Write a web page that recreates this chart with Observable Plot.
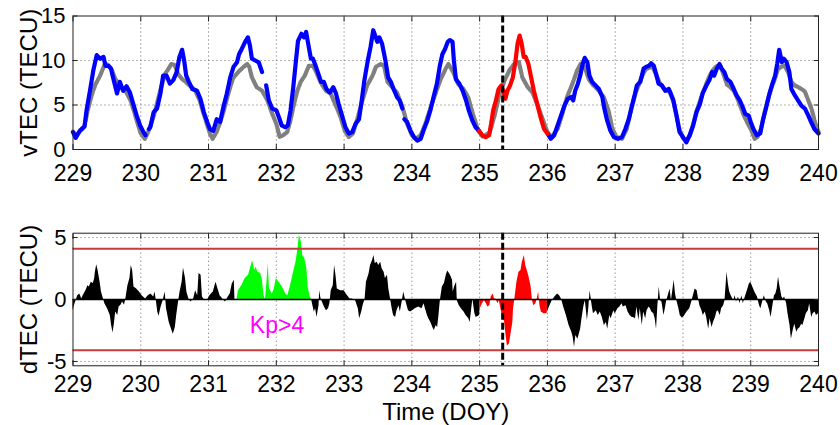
<!DOCTYPE html>
<html>
<head>
<meta charset="utf-8">
<script src="https://cdn.jsdelivr.net/npm/d3@7"></script>
<script src="https://cdn.jsdelivr.net/npm/@observablehq/plot@0.6"></script>
<style>
  html, body { margin: 0; padding: 0; background: #fff; }
  #chart { width: 840px; height: 425px; overflow: hidden; }
  #chart svg { display: block; }
</style>
</head>
<body>
<div id="chart"></div>
<script>
// Axis ticks
const doyTicks = [229, 230, 231, 232, 233, 234, 235, 236, 237, 238, 239, 240];
const vtecTicks = [0, 5, 10, 15];
const dtecTicks = [-5, 0, 5];

// Reference times (day of year)
const eventDoy = 235.34;          // dashed marker
const kpWindow = [231.42, 232.52]; // Kp > 4 interval
const eventWindow = [235.0, 236.0]; // event day
const dtecThreshold = 4.1;         // ± anomaly bounds (TECU)

// Observed vTEC [DOY, TECU]; null marks a data gap
const vtecBefore = [
  [229.00,1.95],[229.04,1.3],[229.10,2.1],[229.17,2.6],[229.20,4.4],[229.25,6.6],[229.30,8.9],[229.35,10.6],
  [229.40,10.2],[229.45,10.4],[229.48,9.4],[229.52,9.4],[229.56,9.1],[229.60,7.8],[229.65,6.3],[229.69,7.6],
  [229.74,6.6],[229.79,7.1],[229.84,6.4],[229.89,5.1],[229.94,3.8],[229.99,2.7],[230.04,1.95],[230.07,1.6],
  [230.09,null],[230.12,2.3],[230.14,2.5],[230.19,4.2],[230.24,4.6],[230.29,6.3],[230.33,8.3],[230.38,8.3],
  [230.43,7.4],[230.48,7.8],[230.53,8.7],[230.57,10.4],[230.61,11.2],[230.64,10.0],[230.67,8.3],[230.71,7.6],
  [230.76,6.8],[230.83,6.6],[230.88,5.7],[230.93,4.2],[230.98,3.1],[231.02,2.3],[231.07,2.1],[231.12,3.4],
  [231.17,3.1],[231.22,4.8],[231.27,6.3],[231.32,8.1],[231.37,9.3],[231.42,9.8],[231.45,10.7],[231.49,11.3],
  [231.54,12.1],[231.58,12.6],[231.61,11.7],[231.64,10.2],[231.69,10.0],[231.74,9.8],[231.79,8.7],
  [231.82,null],[231.85,7.2],[231.89,5.5],[231.94,4.6],[232.00,4.4],[232.04,3.6],[232.08,2.7],[232.13,2.5],
  [232.17,2.7],[232.21,4.4],[232.25,7.0],[232.29,10.0],[232.32,12.2],[232.37,13.0],[232.41,12.6],[232.44,13.2],
  [232.47,11.9],[232.51,10.2],[232.54,10.2],[232.58,9.4],[232.63,8.3],[232.66,7.6],[232.70,7.6],[232.74,6.8],
  [232.79,6.4],[232.84,7.0],[232.88,6.3],[232.92,5.1],[232.97,3.8],[233.02,2.5],[233.07,1.8],[233.12,1.95],
  [233.17,2.9],[233.22,3.4],[233.26,5.5],[233.30,7.8],[233.35,10.0],[233.39,11.5],[233.43,13.4],[233.45,13.0],
  [233.49,12.1],[233.52,12.6],[233.56,11.9],[233.61,10.0],[233.65,8.1],[233.69,7.6],[233.73,6.8],[233.78,5.9],
  [233.82,5.5],[233.86,4.6],[233.875,null],[233.89,3.4],[233.93,3.1],[233.98,2.1],[234.03,1.4],[234.08,1.0],
  [234.13,1.2],[234.18,2.3],[234.23,3.3],[234.28,4.6],[234.32,5.9],[234.37,7.4],[234.41,9.3],[234.45,10.7],
  [234.49,11.3],[234.53,12.1],[234.56,12.3],[234.60,12.1],[234.62,10.0],[234.65,7.9],[234.70,7.4],[234.75,6.6],
  [234.80,5.5],[234.84,4.4],[234.89,3.3],[234.94,2.5],[234.99,2.1]
];
const vtecEvent = [
  [234.99,2.1],[235.04,1.6],[235.09,1.4],[235.14,1.6],[235.17,2.9],[235.20,4.4],[235.24,5.5],[235.28,6.8],
  [235.32,7.2],[235.35,6.6],[235.38,5.7],[235.41,6.6],[235.45,7.2],[235.49,8.1],[235.53,10.0],[235.56,11.9],
  [235.59,12.8],[235.62,11.9],[235.65,10.4],[235.68,10.4],[235.72,9.6],[235.76,8.1],[235.80,6.6],[235.85,5.1],
  [235.90,3.6],[235.95,2.3],[236.00,1.8]
];
const vtecAfter = [
  [236.00,1.8],[236.05,1.2],[236.10,1.6],[236.15,2.7],[236.20,3.8],[236.25,4.9],[236.30,5.7],[236.35,5.9],
  [236.38,5.5],[236.41,6.6],[236.45,7.4],[236.49,8.5],[236.52,9.6],[236.55,10.3],[236.59,9.8],[236.62,8.3],
  [236.66,7.6],[236.71,7.2],[236.76,6.8],[236.81,5.9],[236.84,4.6],[236.88,3.3],[236.93,2.1],[236.98,1.4],
  [237.04,1.2],[237.10,1.4],[237.15,2.3],[237.20,3.4],[237.25,5.0],[237.29,6.2],[237.32,7.2],[237.37,7.6],
  [237.42,9.1],[237.46,9.3],[237.50,9.4],[237.53,9.7],[237.57,9.4],[237.61,8.3],[237.64,7.4],[237.69,7.2],
  [237.74,6.6],[237.79,6.8],[237.82,6.3],[237.86,5.5],[237.90,4.0],[237.95,1.95],[238.00,1.4],[238.05,0.8],
  [238.10,1.6],[238.15,2.7],[238.20,4.2],[238.25,5.1],[238.29,6.3],[238.34,7.1],[238.39,7.8],[238.43,8.7],
  [238.46,8.3],[238.50,9.1],[238.54,9.6],[238.57,9.1],[238.61,8.7],[238.65,7.9],[238.70,7.6],[238.75,6.8],
  [238.79,6.1],[238.84,5.5],[238.88,4.8],[238.92,4.0],[238.97,3.8],[239.00,3.1],[239.04,2.3],[239.09,1.6],
  [239.14,1.8],[239.18,3.3],[239.23,4.8],[239.27,6.1],[239.32,7.4],[239.36,8.3],[239.39,9.6],[239.42,11.2],
  [239.46,9.8],[239.49,10.2],[239.53,9.8],[239.57,8.7],[239.60,6.8],[239.65,6.1],[239.70,5.5],[239.75,4.9],
  [239.80,4.6],[239.85,3.8],[239.89,3.1],[239.94,2.3],[240.00,1.8]
];

// Background (quiet-day) vTEC [DOY, TECU]
const vtecBackground = [
  [229.00,2.0],[229.05,1.6],[229.10,2.0],[229.17,2.6],[229.22,4.5],[229.28,6.2],[229.33,7.3],[229.40,8.3],
  [229.47,9.6],[229.52,9.5],[229.57,9.0],[229.62,8.0],[229.70,7.0],[229.78,6.5],[229.85,5.5],[229.90,4.3],
  [229.95,3.0],[230.00,1.8],[230.06,1.2],[230.10,1.8],[230.15,2.8],[230.20,4.0],[230.25,5.5],[230.30,7.0],
  [230.36,8.5],[230.41,9.1],[230.45,9.6],[230.50,9.5],[230.55,8.5],[230.60,8.0],[230.66,7.6],[230.72,7.2],
  [230.80,6.7],[230.87,5.5],[230.92,4.2],[230.97,3.0],[231.02,1.8],[231.06,1.2],[231.12,2.0],[231.17,3.0],
  [231.23,4.5],[231.30,6.5],[231.36,8.0],[231.45,8.8],[231.52,9.3],[231.57,9.6],[231.60,9.3],[231.64,8.1],
  [231.71,7.0],[231.79,6.6],[231.87,5.5],[231.94,4.0],[232.00,2.9],[232.05,1.4],[232.10,1.6],[232.16,1.95],
  [232.21,3.3],[232.26,5.1],[232.31,6.6],[232.36,7.6],[232.42,8.3],[232.48,9.4],[232.54,9.4],[232.59,8.7],
  [232.65,7.6],[232.73,6.6],[232.80,6.3],[232.87,5.1],[232.95,3.6],[233.01,2.1],[233.07,1.4],[233.13,1.8],
  [233.19,3.3],[233.27,5.5],[233.34,7.2],[233.42,8.3],[233.47,9.3],[233.54,9.6],[233.59,9.4],[233.64,7.6],
  [233.71,7.0],[233.78,6.4],[233.86,4.8],[233.93,2.9],[234.00,1.6],[234.06,1.2],[234.13,1.6],[234.20,2.9],
  [234.28,4.8],[234.35,6.3],[234.42,7.8],[234.50,9.1],[234.54,9.6],[234.61,8.7],[234.68,7.4],[234.76,6.8],
  [234.83,5.9],[234.90,4.0],[234.98,2.1],[235.05,1.4],[235.15,1.95],[235.22,3.8],[235.29,6.1],[235.37,7.8],
  [235.44,8.9],[235.51,9.6],[235.58,9.8],[235.63,8.1],[235.71,7.0],[235.78,6.4],[235.85,5.1],[235.93,3.4],
  [236.00,1.95],[236.06,1.4],[236.15,2.3],[236.22,4.0],[236.29,5.9],[236.37,7.4],[236.44,8.9],[236.49,9.6],
  [236.55,9.3],[236.61,7.9],[236.68,7.2],[236.76,6.6],[236.83,5.9],[236.90,4.4],[236.96,2.3],[237.02,1.4],
  [237.10,1.2],[237.17,2.3],[237.24,4.6],[237.30,6.3],[237.35,7.3],[237.40,8.3],[237.45,9.0],[237.50,9.2],
  [237.55,9.3],[237.60,8.5],[237.65,7.6],[237.70,7.0],[237.75,6.6],[237.80,6.5],[237.85,5.6],[237.90,4.0],
  [237.95,2.2],[238.00,1.3],[238.05,1.0],[238.10,1.6],[238.15,2.8],[238.20,4.3],[238.25,5.4],[238.30,6.5],
  [238.35,7.5],[238.40,8.4],[238.45,9.0],[238.50,9.4],[238.55,9.4],[238.60,8.4],[238.65,7.3],[238.70,7.0],
  [238.75,6.6],[238.80,5.8],[238.85,4.8],[238.90,3.8],[238.95,3.0],[239.00,2.3],[239.06,1.2],[239.10,1.4],
  [239.15,2.3],[239.20,4.0],[239.25,5.5],[239.30,6.8],[239.35,7.8],[239.40,9.0],[239.45,9.3],[239.50,9.4],
  [239.55,8.7],[239.60,7.6],[239.65,7.2],[239.70,7.0],[239.75,6.8],[239.80,6.5],[239.85,5.5],[239.90,4.5],
  [239.95,3.0],[240.00,2.0]
];

// Differential TEC (observed minus background) [DOY, TECU]
const dtec = [
  [229.00,-0.9],[229.03,-0.35],[229.07,0.3],[229.10,0.45],[229.13,0.05],[229.15,0.3],[229.19,0.7],[229.22,1.1],
  [229.24,1.0],[229.27,1.4],[229.30,1.3],[229.32,1.7],[229.33,2.2],[229.35,2.8],[229.37,2.35],[229.40,1.4],
  [229.42,0.6],[229.45,0.05],[229.47,-0.35],[229.51,-0.75],[229.55,-1.3],[229.57,-2.1],[229.59,-2.7],[229.61,-2.0],
  [229.63,-1.0],[229.66,-1.3],[229.68,-0.6],[229.71,-0.45],[229.73,-0.2],[229.76,-0.45],[229.78,0.05],[229.81,1.1],
  [229.84,1.7],[229.86,2.75],[229.88,2.35],[229.90,1.0],[229.94,0.85],[229.98,0.6],[230.02,0.3],[230.07,0.05],
  [230.11,0.3],[230.15,0.45],[230.19,0.2],[230.21,0.6],[230.23,-0.1],[230.25,-1.0],[230.27,-1.35],[230.30,-0.6],
  [230.33,-0.1],[230.36,0.6],[230.38,-0.75],[230.42,-1.85],[230.46,-2.5],[230.48,-2.8],[230.51,-2.25],[230.53,-1.3],
  [230.56,-0.1],[230.58,0.6],[230.61,1.4],[230.63,2.55],[230.66,1.7],[230.68,0.6],[230.71,0.05],[230.74,-0.2],
  [230.78,0.05],[230.81,0.7],[230.84,0.3],[230.86,2.1],[230.89,1.95],[230.91,0.2],[230.95,-0.1],[230.99,0],
  [231.02,0.3],[231.07,0.6],[231.11,1.4],[231.14,0.85],[231.17,0.3],[231.21,0.05],[231.25,-0.2],[231.29,0.2],
  [231.32,0.45],[231.35,1.25],[231.38,1.55],[231.39,-0.1],[231.42,0],
  [231.44,0.7],[231.49,1.1],[231.54,1.7],[231.59,1.95],[231.63,2.75],[231.65,3.15],[231.68,2.35],[231.70,2.6],
  [231.73,2.2],[231.77,2.1],[231.79,1.7],[231.82,0.3],[231.84,0],[231.86,1.25],[231.88,2.9],[231.90,0.85],
  [231.94,0.45],[231.97,0.85],[232.00,1.7],[232.04,1.4],[232.09,1.0],[232.14,0.45],[232.17,0.3],[232.21,1.1],
  [232.25,2.1],[232.29,3.0],[232.32,4.1],[232.34,5.2],[232.37,4.65],[232.39,3.55],[232.42,3.3],[232.45,2.5],
  [232.47,1.0],[232.50,0.2],[232.52,0],
  [232.54,-0.5],[232.56,-1.0],[232.58,-0.75],[232.60,-1.45],[232.63,-0.5],[232.64,0.7],[232.66,0.05],[232.69,-0.35],
  [232.71,-0.6],[232.74,-0.9],[232.77,-0.75],[232.79,-0.35],[232.81,0.7],[232.84,1.1],[232.86,2.75],[232.88,1.95],
  [232.90,0.85],[232.95,0.7],[233.00,0.7],[233.05,0.3],[233.09,0.05],[233.12,0.05],[233.17,-0.1],[233.21,-0.75],
  [233.23,-1.55],[233.26,-1.0],[233.28,-0.5],[233.31,0.05],[233.33,1.4],[233.37,2.1],[233.39,2.75],[233.42,3.15],
  [233.44,3.55],[233.46,2.9],[233.49,3.0],[233.51,2.75],[233.54,3.0],[233.56,2.5],[233.59,2.2],[233.61,1.7],
  [233.64,1.95],[233.66,0.85],[233.69,-0.1],[233.71,-0.75],[233.73,-1.3],[233.76,-1.45],[233.78,-0.9],[233.81,-0.5],
  [233.83,-1.0],[233.86,-0.1],[233.88,0.6],[233.91,-0.1],[233.95,-0.9],[233.98,-1.0],[234.01,-0.9],[234.05,-0.75],
  [234.10,-0.6],[234.15,-0.75],[234.18,-0.35],[234.20,-0.75],[234.23,-1.3],[234.25,-1.55],[234.28,-1.85],[234.31,-2.25],
  [234.33,-2.5],[234.36,-2.1],[234.38,-2.25],[234.40,-1.3],[234.42,-0.1],[234.45,1.0],[234.48,1.3],[234.51,2.0],
  [234.53,2.3],[234.57,1.95],[234.60,1.55],[234.61,0.6],[234.63,1.0],[234.66,1.4],[234.67,-0.1],[234.70,-0.5],
  [234.73,-0.75],[234.77,-1.0],[234.80,-1.3],[234.84,-1.55],[234.86,-1.85],[234.88,-0.9],[234.90,0.05],[234.93,-1.15],
  [234.95,-1.45],[235.00,-1.3],
  [235.01,-0.75],[235.04,-0.35],[235.07,-0.1],[235.10,-0.35],[235.12,-0.6],[235.15,-0.5],[235.17,0.2],[235.20,0.45],
  [235.22,0.05],[235.24,0.05],[235.27,-0.35],[235.29,-0.1],[235.32,-0.9],[235.34,-1.3],[235.37,-1.85],[235.39,-2.9],
  [235.41,-3.75],[235.44,-3.6],[235.46,-2.9],[235.49,-1.85],[235.50,-0.75],[235.52,0.05],[235.55,1.4],[235.58,2.2],
  [235.61,2.35],[235.63,3.0],[235.66,3.55],[235.68,2.75],[235.71,2.2],[235.73,1.8],[235.76,1.0],[235.78,-0.1],
  [235.80,-0.5],[235.83,-0.35],[235.85,0.05],[235.87,0.6],[235.89,-0.5],[235.91,-1.0],[235.95,-1.15],[235.99,-1.15],
  [236.00,-1.0],
  [236.03,-0.6],[236.07,-0.1],[236.11,0.2],[236.15,0.45],[236.18,0.3],[236.21,0],[236.24,-0.6],[236.28,-1.3],
  [236.32,-2.1],[236.36,-2.65],[236.38,-3.05],[236.40,-3.85],[236.42,-2.9],[236.45,-3.2],[236.49,-2.4],[236.51,-1.55],
  [236.54,-0.5],[236.56,-0.1],[236.59,-1.7],[236.61,-0.75],[236.63,0.7],[236.66,-0.5],[236.68,-1.15],[236.72,-0.9],
  [236.75,-1.3],[236.78,-1.0],[236.81,-1.45],[236.84,-2.1],[236.87,-1.85],[236.89,-2.4],[236.92,-1.3],[236.94,-1.55],
  [236.98,-0.9],[237.00,-1.15],[237.04,-0.75],[237.07,-0.6],[237.10,-0.35],[237.12,-0.6],[237.16,-0.5],[237.19,-1.0],
  [237.22,-1.3],[237.25,-1.45],[237.27,-1.45],[237.30,-1.55],[237.32,-0.6],[237.35,-1.7],[237.37,-0.75],[237.40,-2.1],
  [237.42,-1.0],[237.45,-1.55],[237.47,-0.9],[237.50,-0.6],[237.52,-0.75],[237.54,-1.0],[237.57,-1.15],[237.59,-1.55],
  [237.61,-2.4],[237.63,-0.5],[237.65,1.0],[237.67,-0.1],[237.69,-0.2],[237.72,-1.3],[237.74,-0.75],[237.76,-0.1],
  [237.79,0.45],[237.81,0.85],[237.83,-0.1],[237.85,0.7],[237.87,1.55],[237.89,0.45],[237.91,-0.1],[237.94,-0.75],
  [237.96,-1.3],[237.99,-1.5],[238.02,-1.35],[238.06,-1.0],[238.10,-0.75],[238.13,-0.2],[238.16,0.45],[238.18,0.85],
  [238.21,0.7],[238.23,0.05],[238.25,-0.5],[238.28,-0.9],[238.30,-1.3],[238.33,-1.0],[238.35,-1.45],[238.38,-2.4],
  [238.40,-1.55],[238.43,-2.25],[238.45,-1.85],[238.48,-1.45],[238.50,-1.0],[238.52,-0.9],[238.55,-1.3],[238.57,-0.75],
  [238.60,-0.5],[238.62,-0.1],[238.65,2.2],[238.67,1.25],[238.69,0.6],[238.72,0.2],[238.75,-0.1],[238.77,0.3],
  [238.79,-0.2],[238.82,0.2],[238.84,-0.35],[238.87,0.3],[238.89,-0.35],[238.92,0.2],[238.95,0.7],[238.98,1.25],
  [239.00,1.4],[239.03,1.0],[239.06,0.6],[239.10,0.2],[239.13,-0.5],[239.15,-0.75],[239.18,-0.1],[239.20,0.3],
  [239.23,-0.2],[239.25,-0.35],[239.28,-0.9],[239.30,-1.45],[239.32,-0.75],[239.35,0.3],[239.37,0.45],[239.39,0.85],
  [239.41,1.8],[239.43,1.1],[239.46,0.2],[239.48,0.05],[239.50,0.2],[239.53,-0.35],[239.55,-1.15],[239.58,-2.1],
  [239.60,-3.2],[239.63,-2.4],[239.65,-2.0],[239.68,-2.65],[239.70,-2.4],[239.73,-2.25],[239.75,-2.0],[239.77,-2.1],
  [239.80,-1.55],[239.82,-1.15],[239.85,-0.9],[239.87,-0.35],[239.90,-1.45],[239.92,-1.15],[239.95,-1.0],[239.97,-1.3],
  [240.00,-1.15]
];

// Fill colour of each dTEC interval
const dtecSegments = [
  {from: 229, to: kpWindow[0], fill: "#000000"},
  {from: kpWindow[0], to: kpWindow[1], fill: "#00ff00"},
  {from: kpWindow[1], to: eventWindow[0], fill: "#000000"},
  {from: eventWindow[0], to: eventWindow[1], fill: "#ff0000"},
  {from: eventWindow[1], to: 240, fill: "#000000"}
];

const FONT = "'Liberation Sans', Arial, Helvetica, sans-serif";
const X = d => d[0];
const Y = d => d[1];
const plainNumber = d => String(d); // ASCII hyphen for negatives

const gridStyle = {stroke: "#666", strokeOpacity: 1, strokeWidth: 1, strokeDasharray: "1,3"};
const innerTicks = {tickSize: -5, stroke: "#222"};

const vtecPanel = Plot.plot({
  width: 840,
  height: 200,
  marginLeft: 72.5,
  marginRight: 22,
  marginTop: 15.5,
  marginBottom: 51,
  style: {fontFamily: FONT, fontSize: "23px", color: "#000", background: "#fff", overflow: "visible"},
  x: {domain: [229, 240]},
  y: {domain: [0, 15]},
  marks: [
    Plot.gridX(doyTicks.slice(1, -1), gridStyle),
    Plot.gridY(vtecTicks.slice(1, -1), gridStyle),
    Plot.line(vtecBackground, {x: X, y: Y, stroke: "#808080", strokeWidth: 4.2, strokeDasharray: "9,2"}),
    Plot.line(vtecBefore, {x: X, y: Y, stroke: "#0000ff", strokeWidth: 4.2}),
    Plot.line(vtecAfter, {x: X, y: Y, stroke: "#0000ff", strokeWidth: 4.2}),
    Plot.line(vtecEvent, {x: X, y: Y, stroke: "#ff0000", strokeWidth: 4.2}),
    Plot.ruleX([eventDoy], {stroke: "#000", strokeWidth: 3, strokeDasharray: "7,3"}),
    Plot.frame({stroke: "#222"}),
    Plot.axisX(doyTicks, {anchor: "bottom", ...innerTicks, tickPadding: 20, fontSize: 23,
      tickFormat: plainNumber, label: null}),
    Plot.axisX(doyTicks, {anchor: "top", ...innerTicks, fill: "none", label: null}),
    Plot.axisY(vtecTicks, {anchor: "left", ...innerTicks, tickPadding: 12.5, fontSize: 22,
      tickFormat: plainNumber, label: null}),
    Plot.axisY(vtecTicks, {anchor: "right", ...innerTicks, fill: "none", label: null}),
    Plot.axisY([], {anchor: "left", tickSize: 0, fontSize: 24,
      label: "vTEC (TECU)", labelAnchor: "center", labelArrow: "none", labelOffset: 53})
  ]
});

const dtecPanel = Plot.plot({
  width: 840,
  height: 225,
  marginLeft: 72.5,
  marginRight: 22,
  marginTop: 32.7,
  marginBottom: 59.7,
  style: {fontFamily: FONT, fontSize: "23px", color: "#000", background: "#fff", overflow: "visible"},
  x: {domain: [229, 240]},
  y: {domain: [-5.35, 5.35]},
  marks: [
    Plot.gridX(doyTicks.slice(1, -1), gridStyle),
    Plot.gridY(dtecTicks.filter(t => t !== 0), gridStyle),
    ...dtecSegments.map(s =>
      Plot.areaY(dtec.filter(d => d[0] >= s.from && d[0] <= s.to), {x: X, y: Y, fill: s.fill})
    ),
    Plot.ruleY([0], {stroke: "#000", strokeWidth: 1.5}),
    Plot.ruleY([-dtecThreshold, dtecThreshold], {stroke: "#c43c3c", strokeWidth: 2}),
    Plot.ruleX([eventDoy], {stroke: "#000", strokeWidth: 3, strokeDasharray: "7,3"}),
    Plot.text(["Kp>4"], {x: (kpWindow[0] + kpWindow[1]) / 2 + 0.04, y: -2.1, text: d => d, fill: "#ff00ff", fontSize: 23}),
    Plot.frame({stroke: "#222"}),
    Plot.axisX(doyTicks, {anchor: "bottom", ...innerTicks, tickPadding: 14.5, fontSize: 23,
      tickFormat: plainNumber, label: null}),
    Plot.axisX([], {anchor: "bottom", tickSize: 0, fontSize: 24,
      label: "Time (DOY)", labelAnchor: "center", labelArrow: "none", labelOffset: 54.5}),
    Plot.axisX(doyTicks, {anchor: "top", ...innerTicks, fill: "none", label: null}),
    Plot.axisY(dtecTicks, {anchor: "left", ...innerTicks, tickPadding: 11.5, fontSize: 22,
      tickFormat: plainNumber, label: null}),
    Plot.axisY(dtecTicks, {anchor: "right", ...innerTicks, fill: "none", label: null}),
    Plot.axisY([], {anchor: "left", tickSize: 0, fontSize: 24,
      label: "dTEC (TECU)", labelAnchor: "center", labelArrow: "none", labelOffset: 53})
  ]
});

document.getElementById("chart").append(vtecPanel, dtecPanel);
</script>
</body>
</html>
